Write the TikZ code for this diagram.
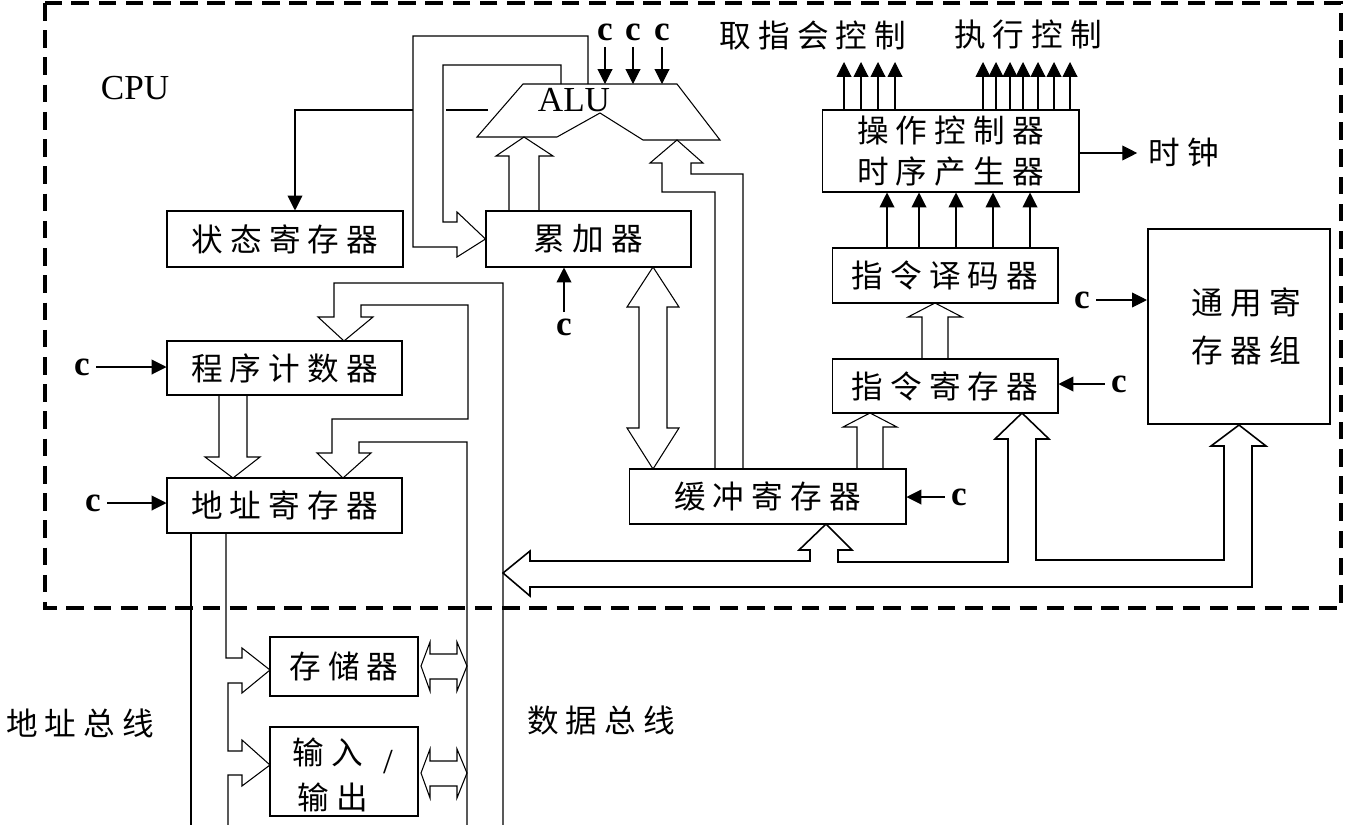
\documentclass[tikz,border=0pt]{standalone}
\usepackage{fontspec}
\setmainfont{Liberation Serif}
\newfontfamily\zhfont{Noto Sans CJK SC}
\usetikzlibrary{arrows.meta,calc}
\tikzset{
	box/.style={draw, line width=0.6pt, inner sep=2pt, font=\zhfont\fontsize{18}{23}\selectfont},
	zh/.style={font=\zhfont\fontsize{18}{23}\selectfont},
	latin/.style={font=\fontsize{20}{22}\selectfont},
	sig/.style={font=\bfseries\fontsize{20}{22}\selectfont},
	arr/.style={-{Triangle[length=8.5pt,width=8.5pt]}},
}

\begin{document}
\begin{tikzpicture}[x=0.02cm, y=-0.02cm, line width=0.6pt]
	\useasboundingbox (0,0) rectangle (1353,825);
	
	% CPU frame
	\draw[line width=1.8pt, dash pattern=on 10pt off 5.5pt] (45,3) rectangle (1341,608);
	\node[latin] (cpu) at (135,88) {CPU};
	
	% registers
	\node[box, minimum width=4.72cm, minimum height=1.12cm] (zt)  at (285,239)   {状 态 寄 存 器};
	\node[box, minimum width=4.1cm,  minimum height=1.12cm] (ljq) at (588.5,239) {累 加 器};
	\node[box, minimum width=4.7cm,  minimum height=1.08cm] (pc)  at (284.5,368) {程 序 计 数 器};
	\node[box, minimum width=4.7cm,  minimum height=1.1cm]  (ar)  at (284.5,505.5) {地 址 寄 存 器};
	\node[box, minimum width=5.54cm, minimum height=1.1cm]  (dr)  at (767.5,496.5) {缓 冲 寄 存 器};
	\node[box, minimum width=4.52cm, minimum height=1.08cm] (ir)  at (945,386)   {指 令 寄 存 器};
	\node[box, minimum width=4.52cm, minimum height=1.1cm]  (id)  at (945,275.5) {指 令 译 码 器};
	\node[box, align=center, minimum width=5.14cm, minimum height=1.64cm] (cu) at (950.5,151) {操 作 控 制 器\\时 序 产 生 器};
	\node[box, line width=1.2pt, align=left, font=\zhfont\fontsize{18}{27}\selectfont,
		minimum width=3.64cm, minimum height=3.9cm] (gr) at (1239,326.5) {\hspace*{0.3cm}通 用 寄\\\hspace*{0.3cm}存 器 组};
	\node[box, minimum width=2.96cm, minimum height=1.18cm] (mem) at (344,666.5) {存 储 器};
	\node[box, minimum width=2.96cm, minimum height=1.78cm] (io)  at (344,771.5) {};
	\node[zh] (io1) at (328,752) {输 入};
	\node[latin] (io2) at (388,762) {/};
	\node[zh] (io3) at (333,797) {输 出};
	
	% ALU
	\draw (523,84) -- (677,84) -- (720,140) -- (643,140) -- (600,113) -- (557,137) -- (477,137) -- cycle;
	\node[latin] (alu) at (574,100) {ALU};
	\coordinate (alutop) at (600,84);
	\foreach \x/\n in {605/a,633/b,662/c} {
		\node[sig] (c\n) at (\x,32) {c};
		\draw[arr] (c\n.south) -- (c\n.south |- alutop);
	}
	
	% ALU -> accumulator, ALU -> status register
	\draw (588,84) -- (588,36) -- (413,36) -- (413,247) -- (457,247) -- (457,257) -- (ljq.west)
		-- (457,212) -- (457,222) -- (443,222) -- (443,65) -- (561,65) -- (561,84);
	\draw (488,110) -- (446,110);
	\draw[arr] (413,110) -| ([xshift=0.2cm]zt.north);
	
	% accumulator / buffer -> ALU
	\draw (509,211) -- (509,156) -- (496,156) -- (524,137) -- (553,156) -- (539,156) -- (539,211);
	\draw (715,469) -- (715,192) -- (662,192) -- (662,163) -- (650,163) -- (677,140) -- (703,163)
		-- (691,163) -- (691,174) -- (743,174) -- (743,469);
	\draw (653,267) -- (679,307) -- (667,307) -- (667,428) -- (679,428) -- (653,469) -- (627,428)
		-- (639,428) -- (639,307) -- (627,307) -- cycle;
	\node[sig] (cd) at (564,327) {c};
	\draw[arr] (cd) -- (cd |- ljq.south);
	
	% program counter, address register
	\node[sig] (ce) at (82,367) {c};
	\draw[arr] (ce) -- (ce -| pc.west);
	\node[sig] (cf) at (93,503) {c};
	\draw[arr] (cf) -- (cf -| ar.west);
	\draw (219,395) -- (219,457) -- (205,457) -- (233,478) -- (260,457) -- (247,457) -- (247,395);
	
	% data bus
	\draw (503,825) -- (503,283) -- (334,283) -- (334,317) -- (318,317) -- (344,341) -- (373,317)
		-- (361,317) -- (361,305) -- (468,305) -- (468,419) -- (332,419) -- (332,453) -- (317,453)
		-- (343,478) -- (371,453) -- (359,453) -- (359,442) -- (467,442) -- (467,825);
	\foreach \y in {666,773}
		\draw (421,\y) -- (430,\y-24) -- (430,\y-12) -- (457,\y-12) -- (457,\y-24) -- (467,\y)
			-- (457,\y+25) -- (457,\y+13) -- (430,\y+13) -- (430,\y+25) -- cycle;
	\node[zh] (db) at (601,720) {数 据 总 线};
	
	% address bus
	\draw (191,533) -- (191,825);
	\draw (226,533) -- (226,658) -- (242,658) -- (242,648) -- (270,670) -- (242,693) -- (242,683)
		-- (228,683) -- (228,751) -- (242,751) -- (242,740) -- (270,765) -- (242,786) -- (242,775)
		-- (228,775) -- (228,825);
	\node[zh] (ab) at (80,723) {地 址 总 线};
	
	% control unit
	\draw (857,469) -- (857,427) -- (843,427) -- (870,413) -- (897,427) -- (883,427) -- (883,469);
	\draw (922,359) -- (922,317) -- (908,317) -- (935,303) -- (962,317) -- (948,317) -- (948,359);
	\foreach \x in {887,919,956,993,1030}
		\draw[arr] (id.north -| \x,0) -- (cu.south -| \x,0);
	\foreach \x in {844,861,878,895,983,996,1010,1023,1038,1054,1070}
		\draw[arr] (cu.north -| \x,0) -- (\x,62);
	\node[zh] (qz) at (813,35) {取 指 会 控 制};
	\node[zh] (zx) at (1028,35) {执 行 控 制};
	\node[zh] (clk) at (1184,153) {时 钟};
	\draw[arr, shorten >=3pt] (cu.east |- clk) -- (clk.west);
	
	\node[sig] (cg) at (1082,300) {c};
	\draw[arr] (cg) -- (cg -| gr.west);
	\node[sig] (ch) at (1119,384) {c};
	\draw[arr] (ch) -- (ch -| ir.east);
	\node[sig] (ci) at (959,497) {c};
	\draw[arr] (ci) -- (ci -| dr.east);
	
	% internal bus
	\draw[line width=0.9pt] (838,562) -- (838,550) -- (852,550) -- (826,524) -- (799,550) -- (810,550) -- (810,561)
		-- (530,561) -- (530,551) -- (503,573) -- (530,596) -- (530,587) -- (1252,587) -- (1252,446)
		-- (1266,446) -- (gr.south) -- (1211,446) -- (1224,446) -- (1224,560) -- (1036,560)
		-- (1036,439) -- (1049,439) -- (1022,413) -- (995,439) -- (1008,439) -- (1008,562) -- cycle;
\end{tikzpicture}
\end{document}
